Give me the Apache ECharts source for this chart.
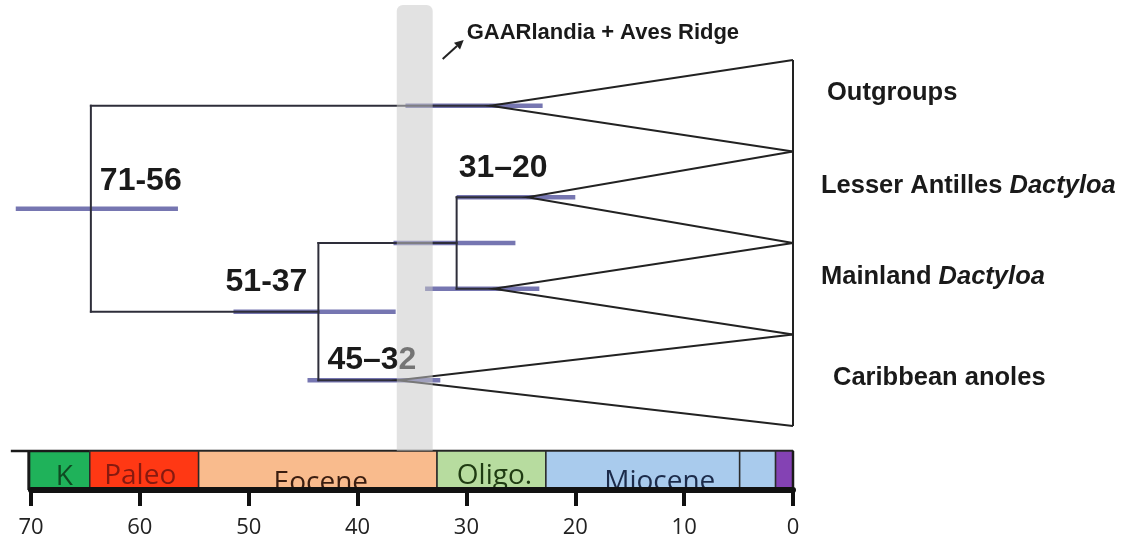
<!DOCTYPE html>
<html><head><meta charset="utf-8">
<script src="https://cdn.jsdelivr.net/npm/echarts@6/dist/echarts.min.js"></script>
<style>html,body{margin:0;padding:0;background:#fff}#c{width:1124px;height:541px}</style>
</head><body><div id="c"></div>
<script>
// ---------------- data ----------------
const cladeNames = ['Outgroups', 'Lesser Antilles ', 'Mainland ', 'Caribbean anoles'];
const cladeItalic = ['', 'Dactyloa', 'Dactyloa', ''];
const cladeCrownAge = [27.8, 24.4, 27.5, 36.3];          // Ma
const nodeNames = ['root', 'B', 'D'];
const nodeAges = [64.5, 43.6, 30.9];                      // Ma
const nodeChildren = [['t0', 'B'], ['D', 't3'], ['t1', 't2']];
const hpdTargets = ['root', 'B', 'D', 't0', 't1', 't2', 't3'];
const hpdOld   = [71.4, 51.4, 36.7, 35.6, 30.9, 33.8, 44.6];
const hpdYoung = [56.5, 36.5, 25.5, 23.0, 20.0, 23.3, 32.4];
const hpdLabels = ['71-56', '51-37', '45\u201332', '31\u201320'];
const hpdLabelRow = ['root', 'B', 't3', 't1'];
const hpdLabelAge = ['root', 'B', 'B', 'D'];
const epochNames = ['K', 'Paleo', 'Eocene', 'Oligo.', 'Miocene', '', ''];
const epochStart = [70.2, 64.6, 54.6, 32.7, 22.7, 4.9, 1.6];
const epochEnd   = [64.6, 54.6, 32.7, 22.7, 4.9, 1.6, 0];
const ageTicks = [70, 60, 50, 40, 30, 20, 10, 0];
const gaarWindow = [36.4, 33.1];
const gaarLabel = 'GAARlandia + Aves Ridge';

// ---------------- styles ----------------
const epochColors = ['#1fb25a', '#ff3814', '#f9bb8d', '#b7dc9f', '#a9cbed', '#a9cbed', '#8442b4'];
const epochTextColors = ['#0f4a22', '#861a10', '#3a1d10', '#1f3b12', '#1c2b4a', '#000', '#000'];
const epochTextDx = [5, -4, 3, 3, 17, 0, 0];
const epochTextDy = [0, -1, 6, -1, 5, 0, 0];
const nodeLabelStyle = [
  {dx: 9, dy: -28, align: 'left'}, {dx: -11, dy: -29, align: 'right'},
  {dx: 9, dy: -20, align: 'left'}, {dx: 2, dy: -29, align: 'left'}];
const tipDx = [34, 28, 28, 40];
const tipDy = [-13, -11, -12, -2];
const SANS = '"Liberation Sans", Arial, sans-serif';

// ---------------- tree layout ----------------
const pos = {};
cladeNames.forEach((n, i) => { pos['t' + i] = {age: cladeCrownAge[i], row: i + 0.5}; });
function place(name) {
  if (pos[name]) return pos[name];
  const k = nodeNames.indexOf(name);
  const rows = nodeChildren[k].map(place).map(c => c.row);
  pos[name] = {age: nodeAges[k], row: (Math.min(...rows) + Math.max(...rows)) / 2};
  return pos[name];
}
nodeNames.forEach(place);
const segs = [];
nodeNames.forEach((n, k) => {
  const p = pos[n];
  const ch = nodeChildren[k].map(c => pos[c]);
  const rows = ch.map(c => c.row);
  segs.push([p.age, Math.min(...rows), p.age, Math.max(...rows)]);
  ch.forEach(c => segs.push([p.age, c.row, c.age, c.row]));
});
const hpdData = hpdTargets.map((t, i) => [hpdOld[i], hpdYoung[i], pos[t].row]);
const nodeLabelData = hpdLabels.map((t, i) => [pos[hpdLabelAge[i]].age, pos[hpdLabelRow[i]].row]);
const cladeData = cladeNames.map((n, i) => [cladeCrownAge[i], i + 0.5]);
const nRows = cladeNames.length;

const tMax = ageTicks[0], tMin = ageTicks[ageTicks.length - 1], tInt = ageTicks[0] - ageTicks[1];

const chart = echarts.init(document.getElementById('c'), null, {renderer: 'canvas'});
chart.setOption({
  animation: false,
  backgroundColor: '#fff',
  grid: [
    {left: 31, width: 762, top: 60, height: 366},
    {left: 31, width: 762, top: 451, height: 39}
  ],
  xAxis: [
    {gridIndex: 0, type: 'value', min: tMin, max: tMax, inverse: true, show: false},
    {gridIndex: 1, type: 'value', min: tMin, max: tMax, interval: tInt, inverse: true, z: 10,
      splitLine: {show: false},
      axisLine: {show: true, lineStyle: {color: '#111', width: 6}},
      axisTick: {show: true, length: 16, lineStyle: {color: '#111', width: 4}},
      axisLabel: {show: true, margin: 27, color: '#222', fontSize: 22, fontFamily: '"Open Sans", sans-serif'}}
  ],
  yAxis: [
    {gridIndex: 0, type: 'value', min: 0, max: nRows, inverse: true, show: false},
    {gridIndex: 1, type: 'value', min: 0, max: 1, show: false}
  ],
  series: [
    { // HPD bars
      type: 'custom', xAxisIndex: 0, yAxisIndex: 0, z: 2,
      data: hpdData, encode: {x: [0, 1], y: 2},
      renderItem(params, api) {
        const a = api.coord([api.value(0), api.value(2)]);
        const b = api.coord([api.value(1), api.value(2)]);
        return {type: 'line', shape: {x1: a[0], y1: a[1], x2: b[0], y2: b[1]},
          style: {stroke: 'rgba(88,88,160,0.82)', lineWidth: 4.5}};
      }
    },
    { // branches
      type: 'custom', xAxisIndex: 0, yAxisIndex: 0, z: 3,
      data: segs, encode: {x: [0, 2], y: [1, 3]},
      renderItem(params, api) {
        const a = api.coord([api.value(0), api.value(1)]);
        const b = api.coord([api.value(2), api.value(3)]);
        return {type: 'line', shape: {x1: a[0], y1: a[1], x2: b[0], y2: b[1]},
          style: {stroke: '#2e2e3a', lineWidth: 2, lineCap: 'square'}};
      }
    },
    { // clade triangles
      type: 'custom', xAxisIndex: 0, yAxisIndex: 0, z: 3,
      data: cladeData, encode: {x: 0, y: 1},
      renderItem(params, api) {
        const age = api.value(0), row = api.value(1);
        const pts = [api.coord([tMin, row - 0.5]), api.coord([age, row]), api.coord([tMin, row + 0.5])];
        const children = [{type: 'polyline', shape: {points: pts},
          style: {stroke: '#222', lineWidth: 2, fill: null}}];
        if (params.dataIndex === 0) {
          const t = api.coord([tMin, 0]), b = api.coord([tMin, nRows]);
          children.push({type: 'line', shape: {x1: t[0], y1: t[1], x2: b[0], y2: b[1]},
            style: {stroke: '#222', lineWidth: 2}});
        }
        return {type: 'group', children};
      }
    },
    { // node age labels
      type: 'custom', xAxisIndex: 0, yAxisIndex: 0, z: 4,
      data: nodeLabelData, encode: {x: 0, y: 1},
      renderItem(params, api) {
        const i = params.dataIndex, s = nodeLabelStyle[i];
        const p = api.coord([api.value(0), api.value(1)]);
        return {type: 'text', x: p[0] + s.dx, y: p[1] + s.dy,
          style: {text: hpdLabels[i], fill: '#1a1a1a', align: s.align, verticalAlign: 'middle',
            font: 'bold 32px ' + SANS}};
      }
    },
    { // tip labels
      type: 'custom', xAxisIndex: 0, yAxisIndex: 0, z: 4,
      data: cladeData, encode: {x: 0, y: 1},
      renderItem(params, api) {
        const i = params.dataIndex;
        const p = api.coord([tMin, api.value(1)]);
        const txt = '{b|' + cladeNames[i] + '}' + (cladeItalic[i] ? '{i|' + cladeItalic[i] + '}' : '');
        return {type: 'text', x: p[0] + tipDx[i], y: p[1] + tipDy[i],
          style: {text: txt, align: 'left', verticalAlign: 'middle',
            rich: {
              b: {fontFamily: SANS, fontWeight: 'bold', fontSize: 25.5, fill: '#1a1a1a'},
              i: {fontFamily: SANS, fontWeight: 'bold', fontStyle: 'italic', fontSize: 25.5, fill: '#1a1a1a'}
            }}};
      }
    },
    { // GAARlandia window band + annotation
      type: 'custom', xAxisIndex: 0, yAxisIndex: 0, z: 8,
      data: [[gaarWindow[0], gaarWindow[1], 0]], encode: {x: [0, 1], y: 2},
      renderItem(params, api) {
        const l = api.coord([api.value(0), 0])[0];
        const r = api.coord([api.value(1), 0])[0];
        const top = 5, bottom = 451;
        const ax1 = r + 10, ay1 = top + 54, ax2 = r + 31, ay2 = top + 35;
        const ang = Math.atan2(ay2 - ay1, ax2 - ax1), h = 9, w = 4.5;
        const bx = ax2 - h * Math.cos(ang), by = ay2 - h * Math.sin(ang);
        const head = [[ax2, ay2],
          [bx + w * Math.sin(ang), by - w * Math.cos(ang)],
          [bx - w * Math.sin(ang), by + w * Math.cos(ang)]];
        return {type: 'group', children: [
          {type: 'rect', shape: {x: l, y: top, width: r - l, height: bottom - top, r: [6, 6, 0, 0]},
            style: {fill: 'rgba(200,200,200,0.52)'}},
          {type: 'line', shape: {x1: ax1, y1: ay1, x2: bx, y2: by}, style: {stroke: '#222', lineWidth: 2}},
          {type: 'polygon', shape: {points: head}, style: {fill: '#222'}},
          {type: 'text', x: r + 34, y: top + 28,
            style: {text: gaarLabel, align: 'left', verticalAlign: 'middle', fill: '#1a1a1a',
              font: 'bold 22px ' + SANS}}
        ]};
      }
    },
    { // geologic time scale
      type: 'custom', xAxisIndex: 1, yAxisIndex: 1, z: 2,
      data: epochNames.map((n, i) => [epochStart[i], epochEnd[i]]), encode: {x: [0, 1]},
      renderItem(params, api) {
        const i = params.dataIndex;
        const a = api.coord([api.value(0), 1]);
        const b = api.coord([api.value(1), 0]);
        const children = [
          {type: 'rect', shape: {x: a[0], y: a[1], width: b[0] - a[0], height: b[1] - a[1]},
            style: {fill: epochColors[i], stroke: '#2a2a2a', lineWidth: 1.5}}
        ];
        if (epochNames[i]) {
          children.push({type: 'text', x: (a[0] + b[0]) / 2 + epochTextDx[i], y: a[1] + 26 + epochTextDy[i],
            style: {text: epochNames[i], align: 'center', verticalAlign: 'middle', fill: epochTextColors[i],
              font: '28px "Open Sans", sans-serif'}});
        }
        if (i === 0) {
          children.push({type: 'line', shape: {x1: a[0] - 18, y1: a[1], x2: api.coord([tMin, 1])[0], y2: a[1]},
            style: {stroke: '#1a1a1a', lineWidth: 2.5}});
          children.push({type: 'line', shape: {x1: a[0], y1: a[1], x2: a[0], y2: b[1]},
            style: {stroke: '#1a1a1a', lineWidth: 3}});
        }
        if (i === epochNames.length - 1) {
          children.push({type: 'line', shape: {x1: b[0], y1: a[1], x2: b[0], y2: b[1]},
            style: {stroke: '#1a1a1a', lineWidth: 2.5}});
        }
        return {type: 'group', children};
      }
    }
  ]
});
</script>
</body></html>
